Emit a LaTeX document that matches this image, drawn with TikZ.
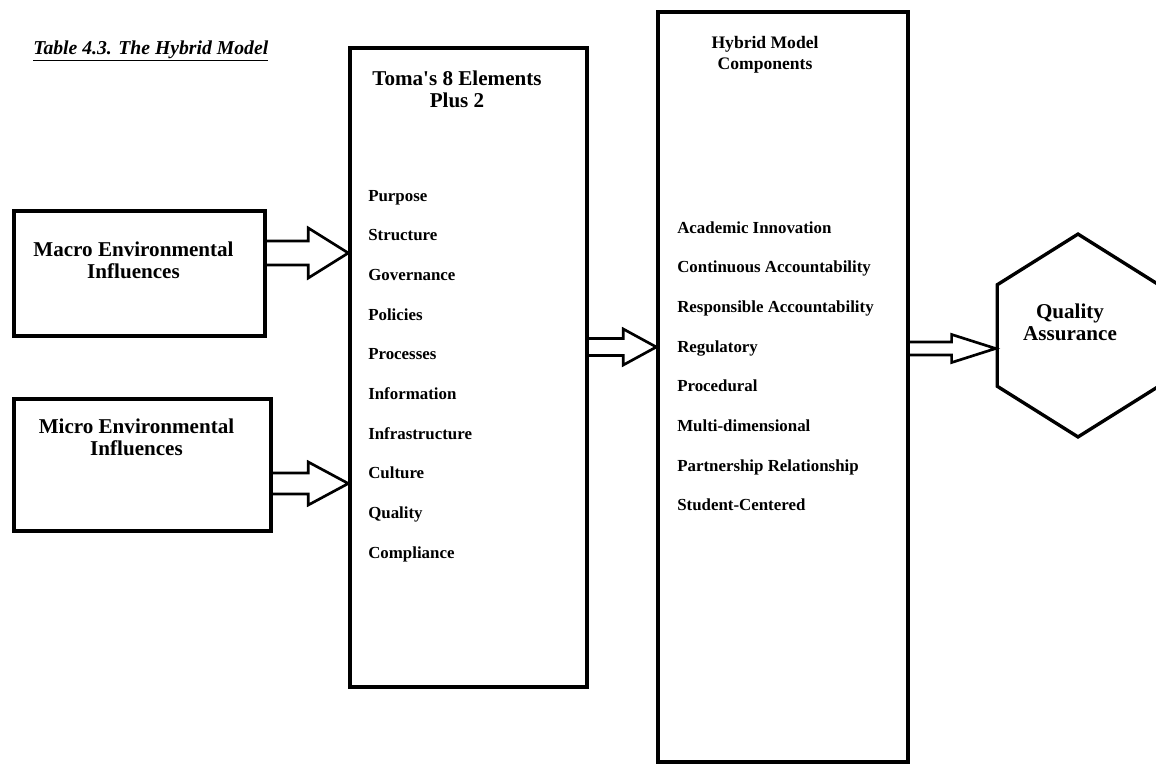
\documentclass[tikz,border=0pt]{standalone}
\usepackage{fontspec}
\setmainfont{Liberation Serif}
\usetikzlibrary{calc,shapes.geometric}

\newcommand\fatarrow[5]{%
\draw[arrowline] ($(#1)+(0,-#3)$) -- ($(#2)+(-#5,-#3)$) -- ($(#2)+(-#5,-#4)$) -- (#2)
  -- ($(#2)+(-#5,#4)$) -- ($(#2)+(-#5,#3)$) -- ($(#1)+(0,#3)$);}

\begin{document}
\begin{tikzpicture}[x=0.025cm,y=-0.025cm,
  boxline/.style={draw=black,line width=2.4pt,inner sep=0pt},
  arrowline/.style={draw=black,line width=1.9pt,line join=miter},
  hexa/.style={boxline,regular polygon,regular polygon sides=6,shape border rotate=30,minimum size=5.07cm},
  head/.style={font=\fontsize{15}{15.6}\selectfont\bfseries,align=center,inner sep=0pt},
  sub/.style={font=\fontsize{12.5}{15}\selectfont\bfseries,align=center,inner sep=0pt},
  item/.style={font=\fontsize{12}{14}\selectfont\bfseries,anchor=base west,inner sep=0pt}]
\useasboundingbox[fill=white] (0,0) rectangle (1156,765);

\node[anchor=base west,inner sep=0pt,font=\fontsize{14}{16}\selectfont\bfseries\itshape] (title) at (33,54) {\underline{Table 4.3. The Hybrid Model}};

\node[boxline,minimum width=6.275cm,minimum height=3.125cm] (macro)  at (139.5,273.5) {};
\node[boxline,minimum width=6.425cm,minimum height=3.3cm]   (micro)  at (142.5,465)   {};
\node[boxline,minimum width=5.925cm,minimum height=15.975cm] (toma)  at (468.5,367.5) {};
\node[boxline,minimum width=6.25cm,minimum height=18.75cm]  (hybrid) at (783,387)     {};
\node[hexa,xscale=0.92] (qa) at (1078,335.5) {};

\node[head] (macrotxt) at (133.5,260) {Macro Environmental\\Influences};
\node[head] (microtxt) at (136.5,437) {Micro Environmental\\Influences};
\node[head] (tomatxt)  at (457,89)    {Toma\textquotesingle s 8 Elements\\Plus 2};
\node[sub]  (hybtxt)   at (765,55)    {Hybrid Model\\Components};
\node[head] (qatxt)    at (1070,322)  {Quality\\Assurance};

\node[item] (t1)  at (368,201)   {Purpose};
\node[item] (t2)  at (368,240.7) {Structure};
\node[item] (t3)  at (368,280.4) {Governance};
\node[item] (t4)  at (368,320.1) {Policies};
\node[item] (t5)  at (368,359.8) {Processes};
\node[item] (t6)  at (368,399.5) {Information};
\node[item] (t7)  at (368,439.2) {Infrastructure};
\node[item] (t8)  at (368,478.9) {Culture};
\node[item] (t9)  at (368,518.6) {Quality};
\node[item] (t10) at (368,558.3) {Compliance};

\node[item] (h1) at (677,233)   {Academic Innovation};
\node[item] (h2) at (677,272.7) {Continuous Accountability};
\node[item] (h3) at (677,312.4) {Responsible Accountability};
\node[item] (h4) at (677,352.1) {Regulatory};
\node[item] (h5) at (677,391.8) {Procedural};
\node[item] (h6) at (677,431.5) {Multi-dimensional};
\node[item] (h7) at (677,471.2) {Partnership Relationship};
\node[item] (h8) at (677,510.9) {Student-Centered};

\coordinate (a1) at (macro.east |- 0,253);
\coordinate (b1) at (toma.west |- 0,253);
\coordinate (a2) at (micro.east |- 0,483.5);
\coordinate (b2) at (toma.west |- 0,483.5);
\coordinate (a3) at (toma.east |- 0,347);
\coordinate (b3) at (hybrid.west |- 0,347);
\coordinate (a4) at (hybrid.east |- 0,348.5);
\coordinate (b4) at (qa.west |- 0,348.5);

\fatarrow{a1}{b1}{12}{25}{40}
\fatarrow{a2}{b2}{10.5}{21.5}{40}
\fatarrow{a3}{b3}{8.5}{18}{33}
\fatarrow{a4}{b4}{6.5}{14}{44}

\end{tikzpicture}
\end{document}
